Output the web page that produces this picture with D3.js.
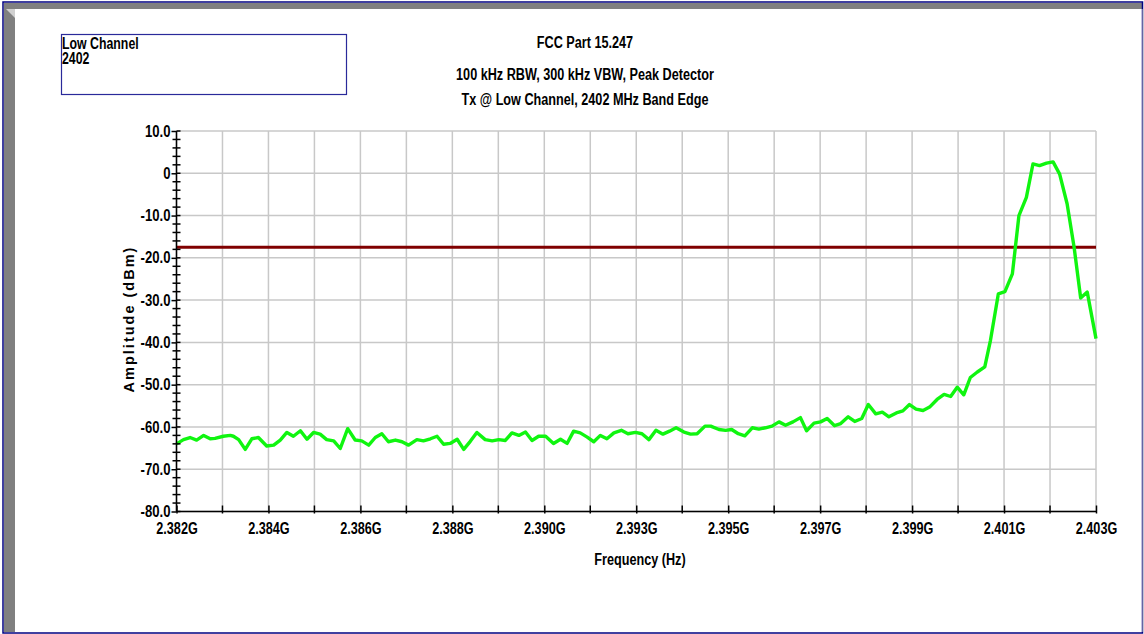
<!DOCTYPE html>
<html>
<head>
<meta charset="utf-8">
<script src="https://cdn.jsdelivr.net/npm/d3@7"></script>
<style>
  html, body { margin: 0; padding: 0; background: #fff; overflow: hidden; }
  svg { display: block; }
</style>
</head>
<body>
<svg id="chart" width="1144" height="634"></svg>
<script>
// Sweep points: frequency (MHz) and measured amplitude (dBm)
const freqMHz = [
  2382.00, 2382.16, 2382.31, 2382.46, 2382.62, 2382.77, 2382.88, 2383.07, 2383.23, 2383.30,
  2383.42, 2383.57, 2383.72, 2383.87, 2384.06, 2384.22, 2384.37, 2384.52, 2384.67, 2384.83,
  2384.98, 2385.13, 2385.28, 2385.43, 2385.59, 2385.74, 2385.91, 2386.08, 2386.23, 2386.39,
  2386.54, 2386.69, 2386.84, 2387.00, 2387.15, 2387.30, 2387.49, 2387.64, 2387.80, 2387.95,
  2388.10, 2388.25, 2388.41, 2388.56, 2388.71, 2388.86, 2389.05, 2389.21, 2389.36, 2389.51,
  2389.66, 2389.82, 2389.97, 2390.12, 2390.27, 2390.43, 2390.61, 2390.77, 2390.92, 2391.07,
  2391.22, 2391.38, 2391.53, 2391.68, 2391.83, 2391.99, 2392.16, 2392.31, 2392.48, 2392.63,
  2392.79, 2392.95, 2393.11, 2393.26, 2393.41, 2393.59, 2393.74, 2393.89, 2394.07, 2394.20,
  2394.39, 2394.54, 2394.68, 2394.83, 2394.98, 2395.15, 2395.30, 2395.45, 2395.60, 2395.76,
  2395.91, 2396.08, 2396.25, 2396.39, 2396.56, 2396.71, 2396.86, 2397.03, 2397.17, 2397.34,
  2397.49, 2397.65, 2397.80, 2397.97, 2398.12, 2398.27, 2398.44, 2398.59, 2398.74, 2398.89,
  2399.05, 2399.20, 2399.37, 2399.53, 2399.68, 2399.83, 2399.98, 2400.13, 2400.29, 2400.46,
  2400.59, 2400.77, 2400.92, 2401.09, 2401.24, 2401.41, 2401.56, 2401.71, 2401.87, 2402.02,
  2402.17, 2402.34, 2402.50, 2402.65, 2402.80, 2403.00
];
const ampDbm = [
  -64.0, -63.0, -62.5, -63.1, -62.0, -62.8, -62.7, -62.2, -62.0, -62.2,
  -63.0, -65.3, -62.8, -62.5, -64.5, -64.3, -63.1, -61.3, -62.2, -60.9,
  -62.9, -61.3, -61.7, -63.0, -63.3, -65.1, -60.4, -63.1, -63.3, -64.3,
  -62.5, -61.6, -63.5, -63.1, -63.5, -64.3, -63.0, -63.3, -62.8, -62.2,
  -64.1, -63.9, -62.9, -65.3, -63.4, -61.3, -63.0, -63.3, -63.0, -63.2,
  -61.4, -62.0, -61.2, -63.2, -62.2, -62.2, -63.9, -62.9, -63.9, -61.0,
  -61.4, -62.4, -63.5, -62.0, -62.8, -61.4, -60.8, -61.6, -61.3, -61.6,
  -63.0, -60.8, -61.7, -61.0, -60.2, -61.2, -61.7, -61.6, -59.8, -59.8,
  -60.6, -60.8, -60.6, -61.6, -62.1, -60.2, -60.5, -60.2, -59.8, -58.8,
  -59.6, -58.8, -57.8, -60.9, -59.1, -58.8, -58.0, -59.7, -59.2, -57.6,
  -58.7, -58.0, -54.7, -56.9, -56.5, -57.6, -56.7, -56.2, -54.7, -55.8,
  -56.1, -55.3, -53.5, -52.3, -52.8, -50.6, -52.4, -48.3, -47.0, -45.8,
  -39.5, -28.5, -28.0, -23.8, -10.0, -5.7, 2.2, 1.8, 2.4, 2.7,
  -0.2, -7.2, -17.5, -29.5, -28.1, -39.1
];
const limitDbm = -17.5;

// Axis ticks and their printed labels
const xTickMHz = [2382.0, 2384.1, 2386.2, 2388.3, 2390.4, 2392.5, 2394.6, 2396.7, 2398.8, 2400.9, 2403.0];
const xTickLabels = ["2.382G", "2.384G", "2.386G", "2.388G", "2.390G", "2.393G", "2.395G", "2.397G", "2.399G", "2.401G", "2.403G"];
const yTickValues = [10, 0, -10, -20, -30, -40, -50, -60, -70, -80];
const yTickLabels = ["10.0", "0", "-10.0", "-20.0", "-30.0", "-40.0", "-50.0", "-60.0", "-70.0", "-80.0"];

const titleLines = ["FCC Part 15.247", "100 kHz RBW, 300 kHz VBW, Peak Detector", "Tx @ Low Channel, 2402 MHz Band Edge"];
const noteLines = ["Low Channel", "2402"];
const xAxisTitle = "Frequency (Hz)";
const yAxisTitle = "Amplitude (dBm)";

const FONT = "'Liberation Sans', Arial, sans-serif";

// Squeeze a text run horizontally so it reads like a narrow bold face
function condense(sel, k) {
  sel.each(function () {
    const len = this.getComputedTextLength();
    d3.select(this).attr("textLength", len * k).attr("lengthAdjust", "spacingAndGlyphs");
  });
}

const svg = d3.select("#chart");
const W = 1144, H = 634;

// Window frame: navy outline with grey bevel on the top and left
svg.append("rect").attr("x", 0).attr("y", 0).attr("width", W).attr("height", H).attr("fill", "#fff");
svg.append("rect").attr("x", 4).attr("y", 3).attr("width", W - 6).attr("height", 6).attr("fill", "#808080");
svg.append("rect").attr("x", 4).attr("y", 3).attr("width", 11).attr("height", H - 5).attr("fill", "#808080");
svg.append("path").attr("d", "M15,9 L15,18 L6,9 Z").attr("fill", "#d0d0d0");
svg.append("rect").attr("x", 3).attr("y", 2).attr("width", W - 4.5).attr("height", H - 3)
  .attr("fill", "none").attr("stroke", "#000080").attr("stroke-width", 1.5);
svg.append("line").attr("x1", W - 1).attr("x2", W - 1).attr("y1", 9).attr("y2", H - 2)
  .attr("stroke", "#c8c8c8").attr("stroke-width", 1);

// Plot area
const pL = 176.5, pR = 1096, pT = 131, pB = 511.5;
const x = d3.scaleLinear().domain([2382, 2403]).range([pL, pR]);
const y = d3.scaleLinear().domain([-80, 10]).range([pB, pT]);

// Minor ticks: halfway between labelled frequencies, every 2 dB on amplitude
const xMinor = d3.pairs(xTickMHz).map(([a, b]) => (a + b) / 2);
const yMinor = d3.range(-80, 10.001, 2).filter(v => !yTickValues.includes(v));

const grid = svg.append("g").attr("stroke", "#c8c8c8").attr("stroke-width", 1.5);
grid.selectAll("line.h").data(yTickValues).join("line").attr("class", "h")
  .attr("x1", pL).attr("x2", pR)
  .attr("y1", d => y(d)).attr("y2", d => y(d));
grid.selectAll("line.v").data(xTickMHz.concat(xMinor)).join("line").attr("class", "v")
  .attr("x1", d => x(d)).attr("x2", d => x(d))
  .attr("y1", pT).attr("y2", pB);

// Limit line
svg.append("line")
  .attr("x1", x(2382)).attr("x2", x(2403))
  .attr("y1", y(limitDbm)).attr("y2", y(limitDbm))
  .attr("stroke", "#800000").attr("stroke-width", 3);

// Measured trace
const pts = freqMHz.map((f, i) => [f, ampDbm[i]]);
svg.append("path")
  .datum(pts)
  .attr("fill", "none")
  .attr("stroke", "#10f510")
  .attr("stroke-width", 3.4)
  .attr("stroke-linejoin", "round")
  .attr("d", d3.line().x(d => x(d[0])).y(d => y(d[1])));

// Y axis
const yAxis = svg.append("g").attr("transform", `translate(${pL},0)`)
  .call(d3.axisLeft(y).tickValues(yTickValues).tickFormat((d, i) => yTickLabels[i]).tickSize(5).tickPadding(1));
yAxis.select(".domain").attr("stroke", "#000").attr("stroke-width", 1.5).attr("d", `M0,${pT}V${pB}`);
yAxis.selectAll(".tick line").attr("stroke", "#000").attr("stroke-width", 1.5);
yAxis.selectAll(".tick text")
  .attr("font-family", FONT).attr("font-weight", "bold").attr("font-size", 16).attr("fill", "#000")
  .call(condense, 0.82);
yAxis.selectAll("line.minor").data(yMinor).join("line").attr("class", "minor")
  .attr("x1", -4).attr("x2", 4).attr("y1", d => y(d)).attr("y2", d => y(d))
  .attr("stroke", "#000").attr("stroke-width", 1.5);
yAxis.selectAll("line.major-r").data(yTickValues).join("line").attr("class", "major-r")
  .attr("x1", 0).attr("x2", 4).attr("y1", d => y(d)).attr("y2", d => y(d))
  .attr("stroke", "#000").attr("stroke-width", 1.5);

// X axis
const xAxis = svg.append("g").attr("transform", `translate(0,${pB})`)
  .call(d3.axisBottom(x).tickValues(xTickMHz).tickFormat((d, i) => xTickLabels[i]).tickSize(2).tickPadding(9));
xAxis.select(".domain").attr("stroke", "#000").attr("stroke-width", 1.5).attr("d", `M${pL},0H${pR}`);
xAxis.selectAll(".tick line").attr("stroke", "#000").attr("stroke-width", 1.5).attr("y1", -6).attr("y2", 2);
xAxis.selectAll(".tick text")
  .attr("font-family", FONT).attr("font-weight", "bold").attr("font-size", 16).attr("fill", "#000")
  .call(condense, 0.79);
xAxis.selectAll("line.minor").data(xMinor).join("line").attr("class", "minor")
  .attr("x1", d => x(d)).attr("x2", d => x(d)).attr("y1", -6).attr("y2", 2)
  .attr("stroke", "#000").attr("stroke-width", 1.5);

// Axis titles
svg.append("text")
  .attr("x", 640).attr("y", 565)
  .attr("text-anchor", "middle")
  .attr("font-family", FONT).attr("font-weight", "bold").attr("font-size", 16)
  .text(xAxisTitle)
  .call(condense, 0.79);
svg.append("text")
  .attr("transform", "translate(134,319) rotate(-90)")
  .attr("text-anchor", "middle")
  .attr("font-family", FONT).attr("font-weight", "bold").attr("font-size", 14.5)
  .attr("letter-spacing", 2)
  .text(yAxisTitle);

// Title block
const titleY = [48, 79.5, 104.5];
svg.selectAll("text.title").data(titleLines).join("text").attr("class", "title")
  .attr("x", 585).attr("y", (d, i) => titleY[i])
  .attr("text-anchor", "middle")
  .attr("font-family", FONT).attr("font-weight", "bold").attr("font-size", 16)
  .text(d => d)
  .call(condense, 0.79);

// Note box in the upper left
svg.append("rect").attr("x", 61.5).attr("y", 34.5).attr("width", 285).attr("height", 60)
  .attr("fill", "none").attr("stroke", "#2a2a9a").attr("stroke-width", 1.2);
svg.selectAll("text.note").data(noteLines).join("text").attr("class", "note")
  .attr("x", 62).attr("y", (d, i) => 48.5 + i * 15.5)
  .attr("font-family", FONT).attr("font-weight", "bold").attr("font-size", 16)
  .text(d => d)
  .call(condense, 0.77);
</script>
</body>
</html>
